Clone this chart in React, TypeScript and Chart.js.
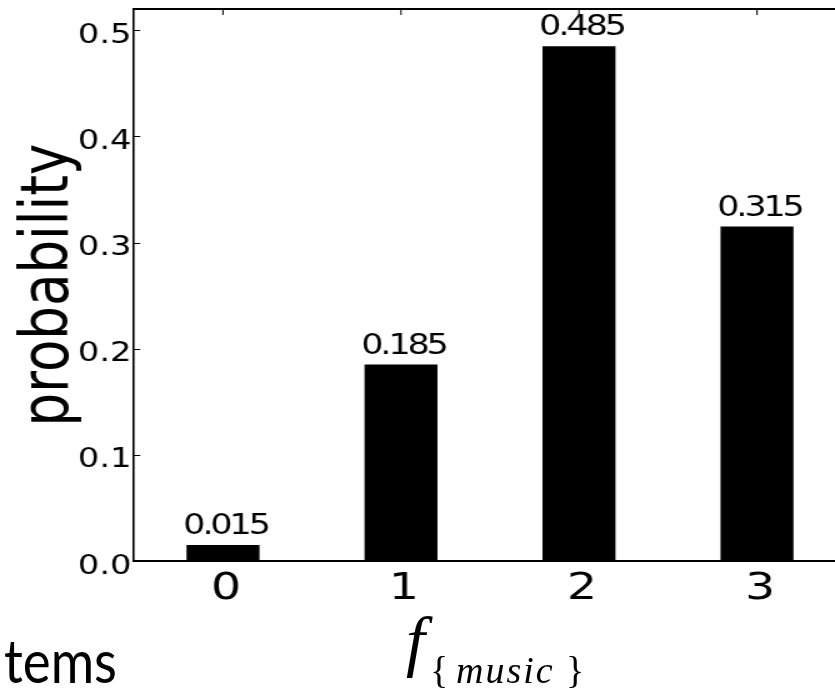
import React, { useEffect, useRef } from 'react';
import { Chart, registerables } from 'chart.js';

Chart.register(...registerables);

// ---- data ----
const categories = ['0', '1', '2', '3'];
const probabilities = [0.015, 0.185, 0.485, 0.315];
const yTickValues = [0, 0.1, 0.2, 0.3, 0.4, 0.5];
const yMin = 0;
const yMax = 0.52;
const yTitle = 'probability';
const xTitleMain = 'f';
const xTitleSub = 'music';
const sideText = 'tems';

// ---- layout (native canvas px; canvas is stretched horizontally like the source image) ----
const SX = 1.25;
const CW = 700;
const CH = 691;
const AREA_LEFT = 107.2;
const AREA_RIGHT = 676.8;
const AREA_TOP = 9;
const AREA_BOTTOM = 561;
const FONT = "'DejaVu Sans', sans-serif";

const innerTicks = {
  id: 'innerTicks',
  beforeDatasetsDraw(chart: any) {
    const { ctx, chartArea: a, scales } = chart;
    const x = scales.x;
    const y = scales.y;
    ctx.save();
    ctx.strokeStyle = '#000';
    ctx.lineWidth = 1;
    y.ticks.forEach((t: any) => {
      const py = Math.round(y.getPixelForValue(t.value)) + 0.5;
      ctx.beginPath();
      ctx.moveTo(a.left, py);
      ctx.lineTo(a.left + 5, py);
      ctx.stroke();
    });
    x.ticks.forEach((_t: any, i: number) => {
      const px = x.getPixelForTick(i);
      ctx.beginPath();
      ctx.moveTo(px, a.top);
      ctx.lineTo(px, a.top + 6);
      ctx.moveTo(px, a.bottom);
      ctx.lineTo(px, a.bottom - 6);
      ctx.stroke();
    });
    ctx.restore();
  },
};

const valueLabels = {
  id: 'valueLabels',
  afterDatasetsDraw(chart: any) {
    const { ctx } = chart;
    const meta = chart.getDatasetMeta(0);
    ctx.save();
    ctx.fillStyle = '#000';
    ctx.font = `28px ${FONT}`;
    (ctx as any).letterSpacing = '-2.5px';
    ctx.textAlign = 'center';
    ctx.textBaseline = 'alphabetic';
    meta.data.forEach((bar: any, i: number) => {
      ctx.fillText(probabilities[i].toFixed(3), bar.x + 2, bar.y - 11);
    });
    ctx.restore();
  },
};

export default function App() {
  const ref = useRef<HTMLCanvasElement | null>(null);

  useEffect(() => {
    if (!ref.current) return;
    const chart = new Chart(ref.current, {
      type: 'bar',
      data: {
        labels: categories,
        datasets: [
          {
            data: probabilities,
            backgroundColor: '#000',
            borderWidth: 0,
            barPercentage: 0.41,
            categoryPercentage: 1,
          },
        ],
      },
      options: {
        animation: false,
        responsive: false,
        maintainAspectRatio: false,
        layout: { padding: { top: AREA_TOP, right: CW - AREA_RIGHT, left: 0, bottom: 0 } },
        plugins: { legend: { display: false }, tooltip: { enabled: false } },
        scales: {
          x: {
            type: 'category',
            position: 'bottom',
            offset: true,
            grid: { display: false, drawTicks: false },
            border: { display: true, color: '#000', width: 2 },
            ticks: {
              color: '#000',
              font: { family: FONT, size: 38 },
              padding: 5,
              labelOffset: 2.4,
              maxRotation: 0,
              autoSkip: false,
            },
            afterFit: (s: any) => {
              s.height = CH - AREA_BOTTOM;
              s.paddingLeft = 0;
              s.paddingRight = 0;
            },
          },
          xTop: {
            type: 'category',
            position: 'top',
            offset: true,
            grid: { display: false, drawTicks: false },
            border: { display: true, color: '#000', width: 2 },
            ticks: { display: false },
            afterFit: (s: any) => {
              s.height = 0;
              s.paddingLeft = 0;
              s.paddingRight = 0;
            },
          },
          y: {
            type: 'linear',
            min: yMin,
            max: yMax,
            grid: { display: false, drawTicks: false },
            border: { display: true, color: '#000', width: 1.6 },
            afterBuildTicks: (s: any) => {
              s.ticks = yTickValues.map((v) => ({ value: v }));
            },
            ticks: {
              color: '#000',
              font: { family: FONT, size: 27 },
              padding: 2,
              labelOffset: 5.5,
              callback: (v: any) => Number(v).toFixed(1),
            },
            title: {
              display: true,
              text: yTitle,
              color: '#000',
              font: { family: FONT, size: 53 },
              padding: { top: 8, bottom: 0 },
            },
            afterFit: (s: any) => {
              s.width = AREA_LEFT;
              s.paddingTop = 0;
              s.paddingBottom = 0;
            },
          },
        },
      },
      plugins: [innerTicks, valueLabels],
    } as any);
    return () => chart.destroy();
  }, []);

  const serif = "'Liberation Serif', 'Times New Roman', serif";

  return (
    <div
      style={{
        position: 'fixed',
        left: 0,
        top: 0,
        width: 835,
        height: 691,
        overflow: 'hidden',
        background: '#fff',
      }}
    >
      <div
        style={{
          position: 'absolute',
          left: 0,
          top: 0,
          width: CW,
          height: CH,
          transform: `scaleX(${SX})`,
          transformOrigin: '0 0',
        }}
      >
        <canvas ref={ref} width={CW} height={CH} style={{ display: 'block', width: CW, height: CH }} />
      </div>
      <span
        style={{
          position: 'absolute',
          left: 406,
          top: 607,
          fontFamily: serif,
          fontStyle: 'italic',
          fontSize: 68,
          lineHeight: '68px',
          whiteSpace: 'nowrap',
        }}
      >
        {xTitleMain}
      </span>
      <span
        style={{
          position: 'absolute',
          left: 430,
          top: 651,
          fontFamily: serif,
          fontSize: 38,
          lineHeight: '38px',
          whiteSpace: 'nowrap',
        }}
      >
        {'{'}
      </span>
      <span
        style={{
          position: 'absolute',
          left: 456,
          top: 651,
          fontFamily: serif,
          fontStyle: 'italic',
          fontSize: 38,
          lineHeight: '38px',
          letterSpacing: '2px',
          whiteSpace: 'nowrap',
        }}
      >
        {xTitleSub}
      </span>
      <span
        style={{
          position: 'absolute',
          left: 566,
          top: 651,
          fontFamily: serif,
          fontSize: 38,
          lineHeight: '38px',
          whiteSpace: 'nowrap',
        }}
      >
        {'}'}
      </span>
      <span
        style={{
          position: 'absolute',
          left: 4,
          top: 630,
          fontFamily: "Lato, 'Open Sans', sans-serif",
          fontSize: 60,
          lineHeight: '60px',
          whiteSpace: 'nowrap',
          transform: 'scaleX(0.88)',
          transformOrigin: '0 0',
        }}
      >
        {sideText}
      </span>
    </div>
  );
}
